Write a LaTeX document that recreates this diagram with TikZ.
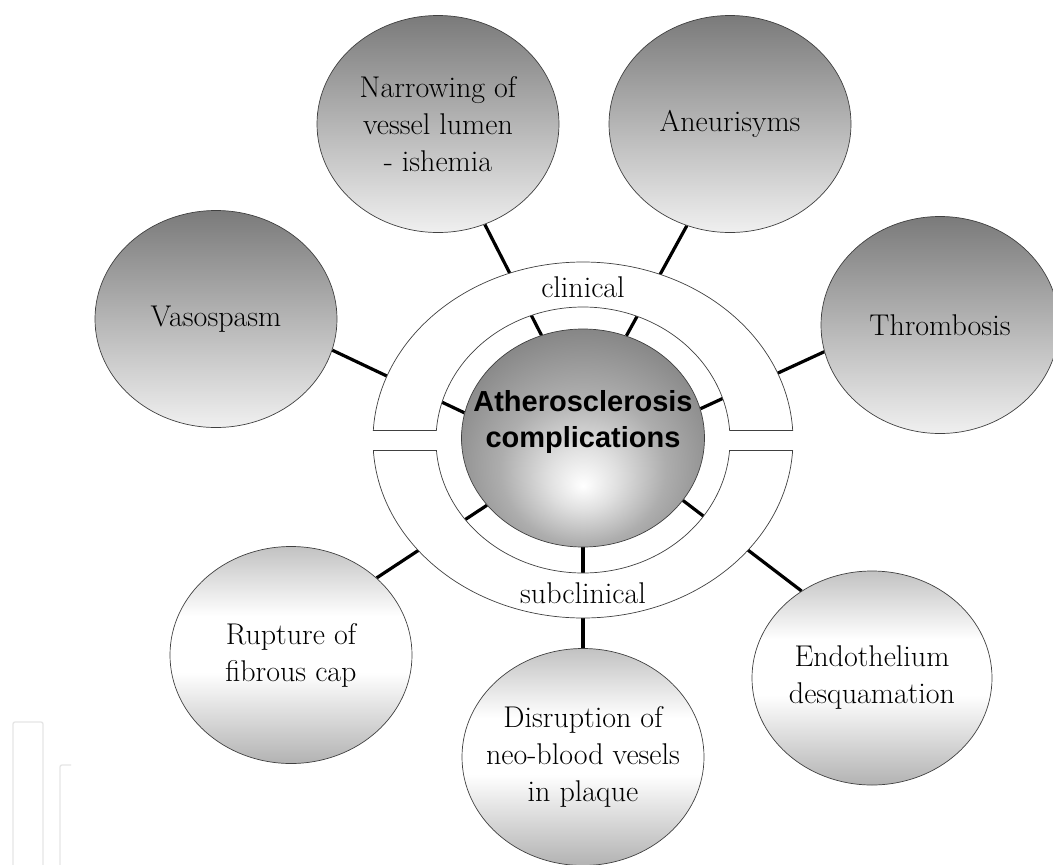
\documentclass[tikz,border=0pt]{standalone}
\usepackage{fontspec}
\newfontfamily\ctrfont{Liberation Sans}
\usetikzlibrary{shapes.geometric}
\pgfdeclarelayer{bg}
\pgfdeclarelayer{ringlayer}
\pgfsetlayers{bg,ringlayer,main}
\colorlet{cylbot}{black!30}
\colorlet{cyltop}{black!24}
\colorlet{ballA}{black!12}
\colorlet{ballB}{black!32}
\colorlet{ballC}{black!48}
\colorlet{ballD}{black!56}
\pgfdeclareverticalshading{cylshade}{100bp}{color(0bp)=(cylbot); color(25bp)=(cylbot); color(46bp)=(white); color(59bp)=(white); color(75bp)=(cyltop); color(100bp)=(cyltop)}
\pgfdeclareradialshading{ballshade}{\pgfpoint{0bp}{-11bp}}{color(0bp)=(white); color(7bp)=(ballA); color(17bp)=(ballB); color(30bp)=(ballC); color(50bp)=(ballD)}
\begin{document}
\begin{tikzpicture}[x=1pt,y=-1pt,
  every node/.style={inner sep=0pt},
  bubble/.style={ellipse, draw=black!75, line width=0.7pt, minimum width=242pt, minimum height=217pt, inner sep=-30pt, align=center, font=\fontsize{30}{37}\selectfont},
  darkbubble/.style={bubble, top color=black!52, bottom color=black!6},
  lightbubble/.style={bubble, shading=cylshade},
  spoke/.style={line width=3.2pt, black},
  ringline/.style={draw=black!75, line width=0.7pt},
  tag/.style={font=\fontsize{30}{37}\selectfont},
  faint/.style={black!10, line width=1.3pt, rounded corners=2pt}]
\useasboundingbox (0,0) rectangle (1053,865);

\node[darkbubble] (narrow) at (438,124) {Narrowing of\\vessel lumen\\- ishemia};
\node[darkbubble] (aneu) at (730,124) {Aneurisyms};
\node[darkbubble] (vaso) at (216,319) {Vasospasm};
\node[darkbubble, minimum width=238pt] (thromb) at (940,325) {Thrombosis};
\node[lightbubble] (rupt) at (291,655) {Rupture of\\fibrous cap};
\node[lightbubble] (disr) at (583,757) {Disruption of\\neo-blood vesels\\in plaque};
\node[lightbubble, minimum width=240pt, minimum height=214pt] (endo) at (872,678) {Endothelium\\desquamation};
\node[ellipse, draw=black!75, line width=0.7pt, minimum width=243pt, minimum height=218pt, shading=ballshade] (core) at (583,438) {};
\node[font=\ctrfont\bfseries\fontsize{29}{36}\selectfont, align=center] (coretext) at (583,421.5) {Atherosclerosis\\complications};

\node[tag] (clin) at (583,287) {clinical};
\node[tag] (subclin) at (583,593) {subclinical};

\begin{pgfonlayer}{bg}
\fill[white] (0,0) rectangle (1053,865);
\draw[faint] (13,865) -- (13,722) -- (43,722) -- (43,865);
\draw[faint] (60,865) -- (60,765) -- (71,765);
\draw[spoke] (core.112.7) -- (narrow.295.7);
\draw[spoke] (core.67) -- (aneu.247.5);
\draw[spoke] (core.168) -- (vaso.345.4);
\draw[spoke] (core.14.5) -- (thromb.193);
\draw[spoke] (core.215) -- (rupt.42.6);
\draw[spoke] (core.270) -- (disr.90);
\draw[spoke] (core.328) -- (endo.129);
\end{pgfonlayer}

\begin{pgfonlayer}{ringlayer}
\begin{scope}
\clip (300,200) rectangle (870,430);
\path[ringline, fill=white, even odd rule] (583,440) ellipse [x radius=210pt, y radius=178pt] (583,440) ellipse [x radius=147pt, y radius=133pt];
\end{scope}
\begin{scope}
\clip (300,450) rectangle (870,700);
\path[ringline, fill=white, even odd rule] (583,440) ellipse [x radius=210pt, y radius=178pt] (583,440) ellipse [x radius=147pt, y radius=133pt];
\end{scope}
\draw[ringline] (373.3,430) -- (436.4,430) (729.6,430) -- (792.7,430);
\draw[ringline] (373.3,450) -- (436.4,450) (729.6,450) -- (792.7,450);
\end{pgfonlayer}
\end{tikzpicture}
\end{document}
